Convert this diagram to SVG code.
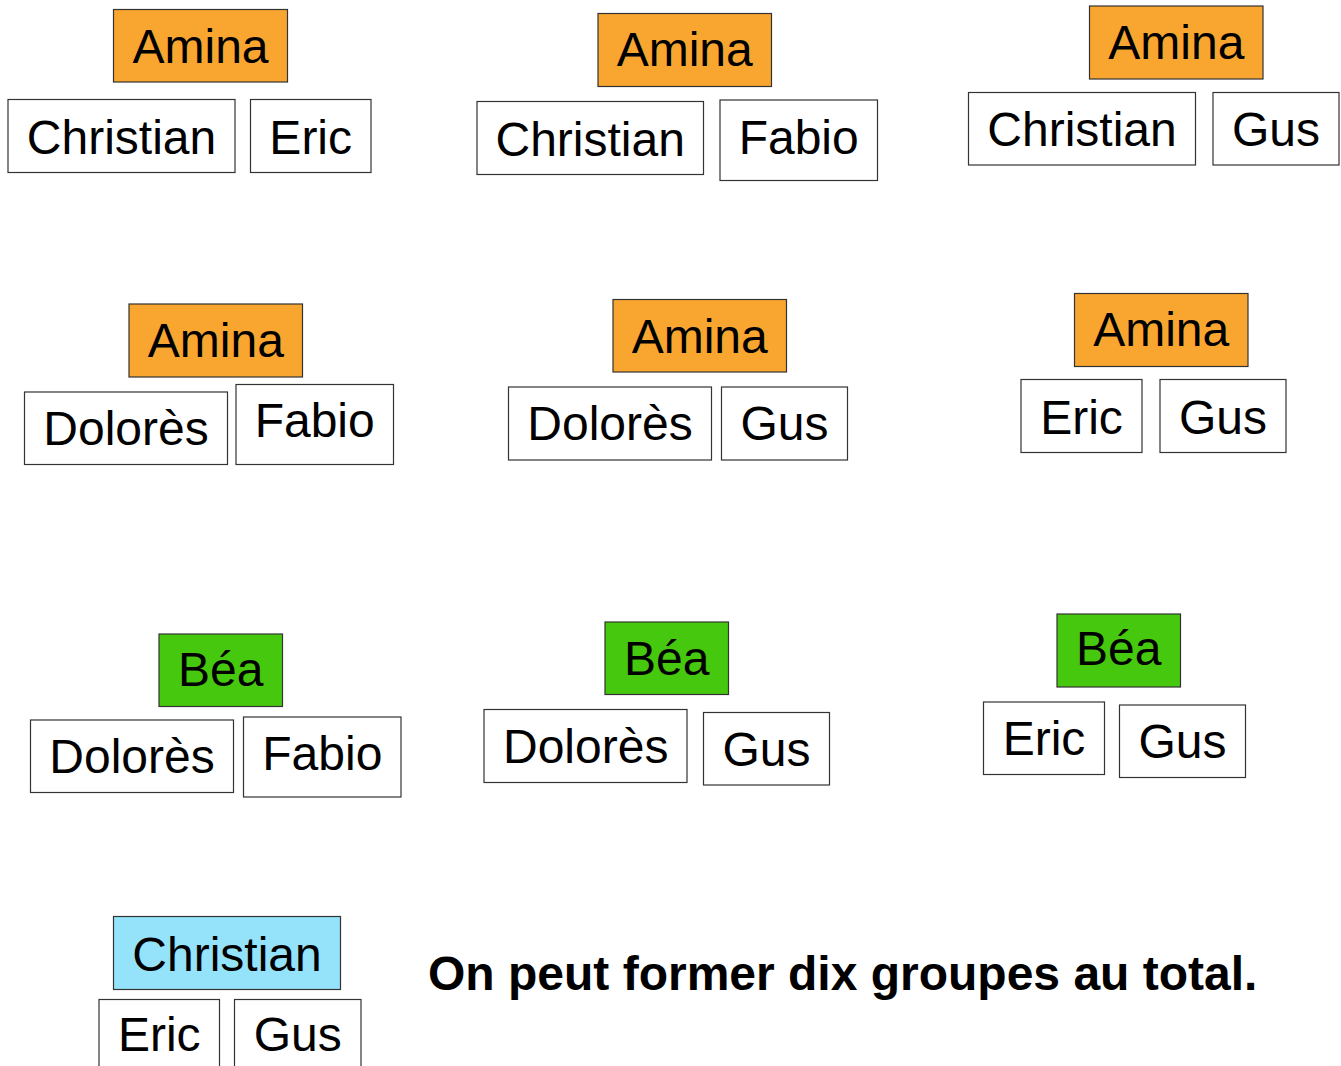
<svg xmlns="http://www.w3.org/2000/svg" width="1341" height="1066" viewBox="0 0 1341 1066">
<style>
rect{stroke:#333;stroke-width:1.2}
.w{fill:#fff}
.o{fill:#F9A630}
.g{fill:#46C80E}
.b{fill:#94E3FA}
text{font-family:"Liberation Sans",Arial,sans-serif;font-size:48px;fill:#000;text-anchor:middle}
.t{font-weight:bold;text-anchor:start}
</style>
<rect width="1341" height="1066" fill="#fff" style="stroke:none"/>
<g id="g1">
<g id="g1-amina"><rect class="o" x="113.5" y="9.5" width="174" height="72.5"/><text x="200.5" y="63">Amina</text></g>
<g id="g1-christian"><rect class="w" x="8" y="99.5" width="227" height="73"/><text x="121.5" y="153.5">Christian</text></g>
<g id="g1-eric"><rect class="w" x="250.5" y="99.5" width="120.5" height="73"/><text x="310.7" y="153.5">Eric</text></g>
</g>
<g id="g2">
<g id="g2-amina"><rect class="o" x="598" y="13.5" width="173.5" height="73"/><text x="684.7" y="66">Amina</text></g>
<g id="g2-christian"><rect class="w" x="477" y="101.5" width="226.5" height="73"/><text x="590.2" y="155.5">Christian</text></g>
<g id="g2-fabio"><rect class="w" x="720" y="100" width="157.5" height="80.5"/><text x="798.7" y="153.5">Fabio</text></g>
</g>
<g id="g3">
<g id="g3-amina"><rect class="o" x="1089.5" y="6" width="173.5" height="73"/><text x="1176.3" y="59">Amina</text></g>
<g id="g3-christian"><rect class="w" x="968.5" y="92.5" width="227" height="72.5"/><text x="1082" y="146">Christian</text></g>
<g id="g3-gus"><rect class="w" x="1213" y="92.5" width="126" height="72.5"/><text x="1276" y="146">Gus</text></g>
</g>
<g id="g4">
<g id="g4-amina"><rect class="o" x="129" y="304" width="173.5" height="73"/><text x="215.8" y="357">Amina</text></g>
<g id="g4-dolores"><rect class="w" x="24.5" y="392" width="203" height="72.5"/><text x="126" y="445">Dolorès</text></g>
<g id="g4-fabio"><rect class="w" x="236" y="384.5" width="157.5" height="80"/><text x="314.7" y="437">Fabio</text></g>
</g>
<g id="g5">
<g id="g5-amina"><rect class="o" x="613" y="299.5" width="173.5" height="72.5"/><text x="699.7" y="353">Amina</text></g>
<g id="g5-dolores"><rect class="w" x="508.5" y="387" width="203" height="73"/><text x="610" y="439.5">Dolorès</text></g>
<g id="g5-gus"><rect class="w" x="721.5" y="387" width="126" height="73"/><text x="784.5" y="439.5">Gus</text></g>
</g>
<g id="g6">
<g id="g6-amina"><rect class="o" x="1074.5" y="293.5" width="173.5" height="73"/><text x="1161.2" y="346">Amina</text></g>
<g id="g6-eric"><rect class="w" x="1021" y="379.5" width="121" height="73"/><text x="1081.5" y="433.5">Eric</text></g>
<g id="g6-gus"><rect class="w" x="1160" y="379.5" width="126" height="73"/><text x="1223" y="433.5">Gus</text></g>
</g>
<g id="g7">
<g id="g7-bea"><rect class="g" x="159" y="634" width="123.5" height="72.5"/><text x="220.7" y="686">Béa</text></g>
<g id="g7-dolores"><rect class="w" x="30.5" y="720" width="203" height="72.5"/><text x="132" y="773">Dolorès</text></g>
<g id="g7-fabio"><rect class="w" x="243.5" y="717" width="157.5" height="80"/><text x="322.3" y="770">Fabio</text></g>
</g>
<g id="g8">
<g id="g8-bea"><rect class="g" x="605" y="622" width="123.5" height="72.5"/><text x="666.8" y="674.5">Béa</text></g>
<g id="g8-dolores"><rect class="w" x="484" y="709.5" width="203" height="73"/><text x="585.7" y="763">Dolorès</text></g>
<g id="g8-gus"><rect class="w" x="703.5" y="712.5" width="126" height="72.5"/><text x="766.5" y="765.5">Gus</text></g>
</g>
<g id="g9">
<g id="g9-bea"><rect class="g" x="1057" y="614" width="123.5" height="73"/><text x="1118.7" y="665">Béa</text></g>
<g id="g9-eric"><rect class="w" x="983.5" y="702" width="121" height="72.5"/><text x="1044" y="755">Eric</text></g>
<g id="g9-gus"><rect class="w" x="1119.5" y="705" width="126" height="72.5"/><text x="1182.5" y="757.5">Gus</text></g>
</g>
<g id="g10">
<g id="g10-christian"><rect class="b" x="113.5" y="916.5" width="227" height="73"/><text x="227" y="971">Christian</text></g>
<g id="g10-eric"><rect class="w" x="99" y="999.5" width="120.5" height="80"/><text x="159.3" y="1051">Eric</text></g>
<g id="g10-gus"><rect class="w" x="234.5" y="999.5" width="126.5" height="80"/><text x="297.7" y="1051">Gus</text></g>
</g>
<g id="connectors"></g>
<text class="t" x="428" y="990">On peut former dix groupes au total.</text>
</svg>
